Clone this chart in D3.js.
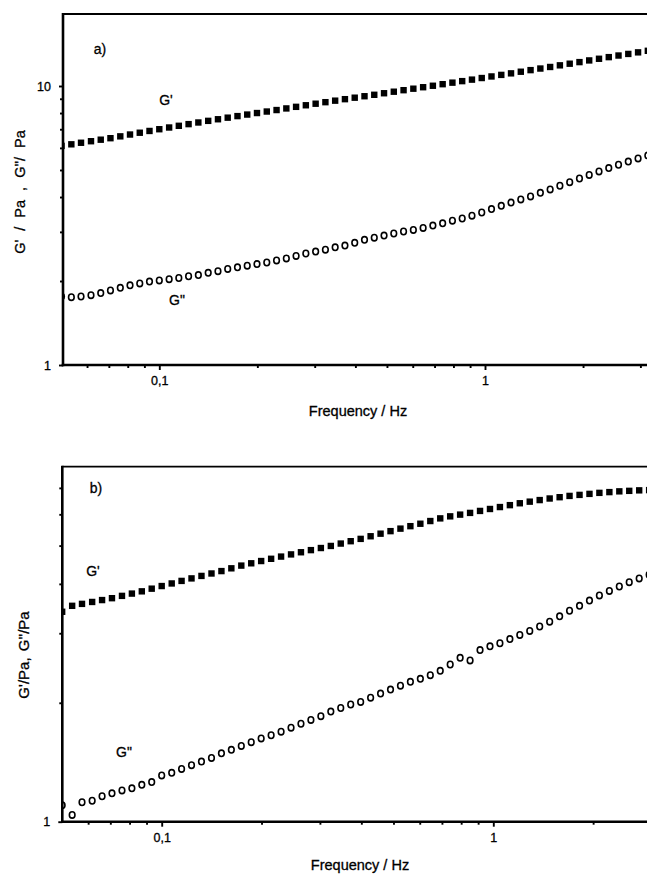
<!DOCTYPE html>
<html>
<head>
<meta charset="utf-8">
<script src="https://cdnjs.cloudflare.com/ajax/libs/d3/7.8.5/d3.min.js"></script>
<style>
body{margin:0;background:#fff;overflow:hidden;}
svg{display:block;}
text{font-family:"Liberation Sans",Arial,sans-serif;fill:#000;}
</style>
</head>
<body>
<div id="graphHolder"></div>
<script>
// frequency sweep (Hz), same for both panels
var freq = [0.0501,0.0537,0.0575,0.0617,0.0661,0.0708,0.0759,0.0813,0.0871,0.0933,
	0.1,0.1072,0.1148,0.123,0.1318,0.1413,0.1514,0.1622,0.1738,0.1862,
	0.1995,0.2138,0.2291,0.2455,0.263,0.2818,0.302,0.3236,0.3467,0.3715,
	0.3981,0.4266,0.4571,0.4898,0.5248,0.5623,0.6026,0.6457,0.6918,0.7413,
	0.7943,0.8511,0.912,0.9772,1.047,1.122,1.202,1.288,1.38,1.479,
	1.585,1.698,1.82,1.95,2.089,2.239,2.399,2.57,2.754,2.951,3.162];

// panel a)
var gPrimeA = [6.10,6.18,6.26,6.34,6.42,6.50,6.60,6.70,6.80,6.90,
	7.00,7.10,7.20,7.30,7.40,7.50,7.60,7.70,7.80,7.90,
	8.00,8.10,8.20,8.31,8.42,8.53,8.64,8.75,8.86,8.97,
	9.08,9.19,9.30,9.42,9.54,9.66,9.78,9.90,10.02,10.15,
	10.28,10.41,10.54,10.68,10.82,10.96,11.10,11.25,11.40,11.55,
	11.70,11.86,12.02,12.18,12.35,12.52,12.69,12.86,13.03,13.20,13.37];
var gDoubleA = [1.76,1.75,1.76,1.78,1.81,1.85,1.89,1.93,1.96,1.99,
	2.01,2.03,2.05,2.08,2.10,2.14,2.17,2.21,2.24,2.27,
	2.30,2.33,2.37,2.41,2.46,2.51,2.55,2.59,2.64,2.68,
	2.74,2.81,2.86,2.91,2.96,3.01,3.05,3.10,3.16,3.22,
	3.29,3.35,3.43,3.52,3.62,3.72,3.82,3.92,4.02,4.14,
	4.26,4.39,4.52,4.66,4.80,4.94,5.08,5.22,5.36,5.50,5.64];

// panel b)
var gPrimeB = [3.40,3.52,3.56,3.60,3.64,3.68,3.73,3.78,3.83,3.89,
	3.95,4.01,4.07,4.13,4.19,4.25,4.31,4.38,4.45,4.51,
	4.57,4.63,4.69,4.75,4.81,4.87,4.93,4.99,5.06,5.13,
	5.20,5.28,5.36,5.44,5.52,5.60,5.68,5.77,5.86,5.93,
	5.99,6.05,6.12,6.19,6.26,6.33,6.40,6.46,6.52,6.58,
	6.63,6.68,6.72,6.76,6.80,6.83,6.86,6.88,6.90,6.91,6.92];
var gDoubleB = [1.10,1.04,1.12,1.13,1.16,1.18,1.20,1.215,1.24,1.26,
	1.31,1.33,1.36,1.39,1.42,1.45,1.49,1.52,1.555,1.59,
	1.625,1.655,1.69,1.73,1.77,1.81,1.85,1.90,1.94,1.98,
	2.01,2.06,2.11,2.16,2.21,2.26,2.30,2.35,2.41,2.50,
	2.60,2.56,2.72,2.78,2.83,2.90,2.97,3.04,3.12,3.21,
	3.31,3.42,3.52,3.63,3.74,3.84,3.94,4.04,4.13,4.22,4.30];

// ticks
var xMajor = [0.1, 1];
var xMajorLabels = ["0,1", "1"];
var xMinor = [0.06,0.07,0.08,0.09,0.2,0.3,0.4,0.5,0.6,0.7,0.8,0.9,2,3];
var yMajorA = [1, 10];
var yMajorLabelsA = ["1", "10"];
var yMinorA = [2,3,4,5,6,7,8,9];
var yMajorB = [1];
var yMajorLabelsB = ["1"];
var yMinorB = [2,3,4,5,6,7];

var W = 647, H = 874;
var svg = d3.select("#graphHolder").append("svg")
	.attr("width", W).attr("height", H);

var panels = [
	{id:"a", left:63, top:14, x01:159.3, x1:485, y1:365, y10:86,
	 gp:gPrimeA, gd:gDoubleA, yMajor:yMajorA, yLabels:yMajorLabelsA, yMinor:yMinorA,
	 tag:"a)", tagX:100, tagY:49, gpX:166, gpY:100, gdX:177, gdY:300,
	 ylab:"G' / Pa , G''/ Pa", ylabSize:14.5, ylabWord:5, ylabX:20, ylabY:192, xlabX:358, xlabY:411},
	{id:"b", left:62.3, top:466.7, x01:161.7, x1:493.3, y1:821.7, y10:426.7,
	 gp:gPrimeB, gd:gDoubleB, yMajor:yMajorB, yLabels:yMajorLabelsB, yMinor:yMinorB,
	 tag:"b)", tagX:96, tagY:488, gpX:93, gpY:571, gdX:124, gdY:752,
	 ylab:"G'/Pa, G''/Pa", ylabSize:15, ylabWord:2, ylabX:24, ylabY:655, xlabX:360, xlabY:865}
];

panels.forEach(drawPanel);

function drawPanel(p){
	var x = d3.scaleLog().domain([0.1, 1]).range([p.x01, p.x1]);
	var y = d3.scaleLog().domain([1, 10]).range([p.y1, p.y10]);
	var bottom = p.y1;
	var g = svg.append("g");

	g.append("clipPath").attr("id", "clip" + p.id)
		.append("rect")
		.attr("x", p.left).attr("y", p.top)
		.attr("width", W - p.left + 20).attr("height", bottom - p.top);

	var pts = g.append("g").attr("clip-path", "url(#clip" + p.id + ")");

	// G'' open circles
	pts.selectAll("ellipse")
		.data(p.gd)
		.enter()
		.append("ellipse")
		.attr("cx", function(d,i){ return x(freq[i]); })
		.attr("cy", function(d){ return y(d); })
		.attr("rx", 2.8)
		.attr("ry", 3.2)
		.style("fill", "none")
		.style("stroke", "#000")
		.style("stroke-width", 1.6);

	// G' filled squares
	var s = 6.4;
	pts.selectAll("rect.sq")
		.data(p.gp)
		.enter()
		.append("rect")
		.attr("class", "sq")
		.attr("x", function(d,i){ return x(freq[i]) - s/2; })
		.attr("y", function(d){ return y(d) - s/2; })
		.attr("width", s)
		.attr("height", s)
		.style("fill", "#000");

	// axes: minor then major ticks
	var xMin = g.append("g").attr("transform", "translate(0," + bottom + ")")
		.call(d3.axisBottom(x).tickValues(xMinor).tickSize(3).tickFormat(""));
	var xMaj = g.append("g").attr("transform", "translate(0," + bottom + ")")
		.call(d3.axisBottom(x).tickValues(xMajor).tickSize(5).tickPadding(6)
			.tickFormat(function(d,i){ return xMajorLabels[i]; }));
	var yMin = g.append("g").attr("transform", "translate(" + p.left + ",0)")
		.call(d3.axisLeft(y).tickValues(p.yMinor).tickSize(3).tickFormat(""));
	var yMaj = g.append("g").attr("transform", "translate(" + p.left + ",0)")
		.call(d3.axisLeft(y).tickValues(p.yMajor).tickSize(4).tickPadding(8)
			.tickFormat(function(d,i){ return p.yLabels[i]; }));

	[xMin, xMaj, yMin, yMaj].forEach(function(a){
		a.select(".domain").remove();
		a.selectAll("line").style("stroke", "#000").style("stroke-width", 1.9);
		a.selectAll("text").style("font-size", "12.5px")
			.style("font-family", "'Liberation Sans',Arial,sans-serif")
			.style("fill", "#000").style("stroke", "#000").style("stroke-width", 0.3);
	});

	// frame lines
	g.append("line").attr("x1", p.left).attr("x2", W + 5)
		.attr("y1", p.top).attr("y2", p.top)
		.style("stroke", "#000").style("stroke-width", 1.8);
	g.append("line").attr("x1", p.left).attr("x2", p.left)
		.attr("y1", p.top - 0.9).attr("y2", bottom + 1.2)
		.style("stroke", "#000").style("stroke-width", 2.6);
	g.append("line").attr("x1", p.left - 1.3).attr("x2", W + 5)
		.attr("y1", bottom).attr("y2", bottom)
		.style("stroke", "#000").style("stroke-width", 2.6);

	// labels
	function label(t, lx, ly, size){
		return g.append("text").text(t)
			.attr("x", lx).attr("y", ly).attr("dy", "0.35em")
			.attr("text-anchor", "middle")
			.style("font-size", size + "px")
			.style("stroke", "#000").style("stroke-width", 0.3);
	}
	label(p.tag, p.tagX, p.tagY, 14);
	label("G'", p.gpX, p.gpY, 14);
	label("G\"", p.gdX, p.gdY, 14);
	label("Frequency / Hz", p.xlabX, p.xlabY, 14.5);

	g.append("text").text(p.ylab)
		.attr("transform", "translate(" + p.ylabX + "," + p.ylabY + ") rotate(-90)")
		.attr("dy", "0.35em")
		.attr("text-anchor", "middle")
		.style("font-size", p.ylabSize + "px")
		.style("word-spacing", p.ylabWord + "px")
		.style("stroke", "#000").style("stroke-width", 0.3);
}
</script>
</body>
</html>
